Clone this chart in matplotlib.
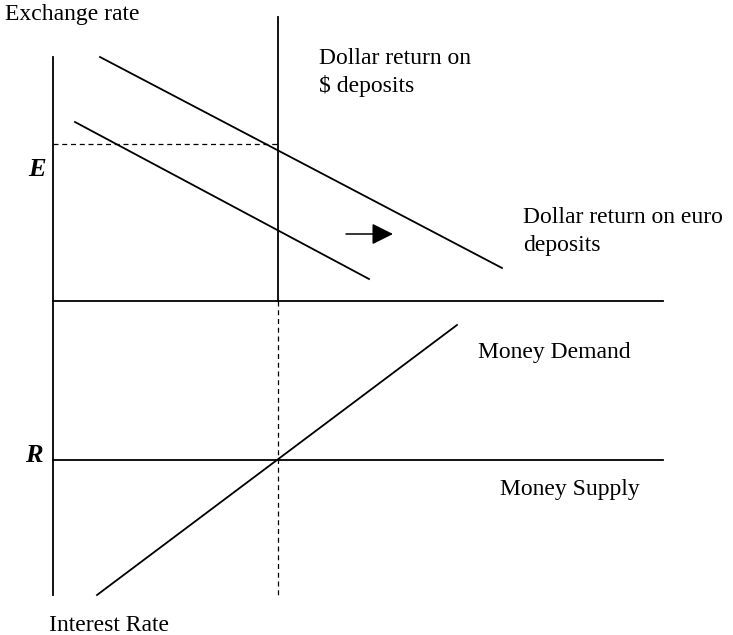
import matplotlib
matplotlib.use("Agg")
import matplotlib.pyplot as plt

# Schematic coordinates (canvas units, y grows downward)
axis_x = [53, 53]
axis_y = [57, 595]

dollar_dep_x = [100, 502]
dollar_dep_y = [57, 268]

euro_old_x = [75, 369]
euro_old_y = [122, 279]

money_demand_x = [97, 457]
money_demand_y = [595, 325]

divider_x = [53, 663]
divider_y = [301, 301]

money_supply_x = [53, 663]
money_supply_y = [460, 460]

eq_x = 278
eq_top, eq_mid, eq_bot = 17, 301, 595
E_level = 144

arrow_start = (346, 234)
arrow_end = (393, 234)

# label text and baseline anchor
labels = {
    "Exchange rate": (5, 20),
    "Dollar return on\n$ deposits": (319, 64),
    "Dollar return on euro\ndeposits": (523, 223),
    "Money Demand": (478, 358),
    "Money Supply": (500, 495),
    "Interest Rate": (49, 631),
}

fig = plt.figure(figsize=(7.33, 6.35), dpi=100)
ax = fig.add_axes([0, 0, 1, 1])
ax.set_xlim(0, 733)
ax.set_ylim(635, 0)
ax.axis("off")

lw = 1.3
c = "black"
ax.plot(axis_x, axis_y, color=c, lw=lw)
ax.plot(dollar_dep_x, dollar_dep_y, color=c, lw=lw)
ax.plot(euro_old_x, euro_old_y, color=c, lw=lw)
ax.plot(money_demand_x, money_demand_y, color=c, lw=lw)
ax.plot(divider_x, divider_y, color=c, lw=lw)
ax.plot(money_supply_x, money_supply_y, color=c, lw=lw)
ax.plot([eq_x, eq_x], [eq_top, eq_mid], color=c, lw=lw)
ax.plot([eq_x, eq_x], [eq_mid, eq_bot], color=c, lw=0.9, ls=(0, (4, 3)))
ax.plot([axis_x[0], eq_x], [E_level, E_level], color=c, lw=0.9, ls=(0, (4, 3)))

ax.annotate("", xy=arrow_end, xytext=arrow_start,
            arrowprops=dict(arrowstyle="-|>,head_length=1.3,head_width=0.65",
                            color=c, lw=1.1, shrinkA=0, shrinkB=0))

font = dict(family="Liberation Serif", fontsize=17, color=c)
for txt, (x, y) in labels.items():
    lines = txt.split("\n")
    for i, ln in enumerate(lines):
        ax.text(x, y + 28 * i, ln, ha="left", va="baseline", **font)

ax.text(37, 170, "E", ha="center", va="center", family="Liberation Serif",
        fontsize=19, fontweight="bold", style="italic")
ax.text(34, 456, "R", ha="center", va="center", family="Liberation Serif",
        fontsize=19, fontweight="bold", style="italic")

fig.savefig("out.png", dpi=100)
